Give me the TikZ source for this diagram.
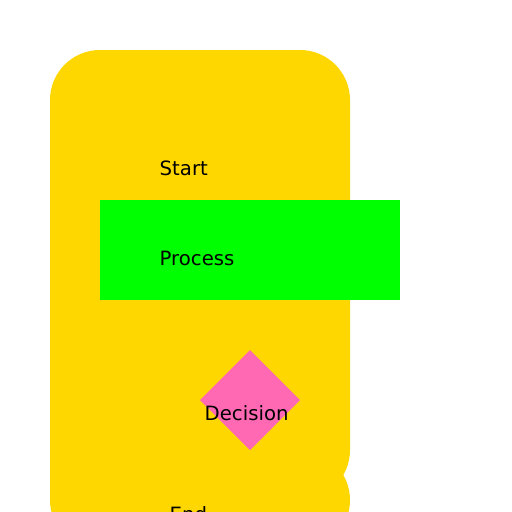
\documentclass[tikz,border=0pt]{standalone}
\usepackage{fontspec}
\setmainfont{DejaVu Sans}
\usetikzlibrary{shapes.geometric}
\definecolor{goldy}{HTML}{FFD700}
\definecolor{greeny}{HTML}{00FF00}
\definecolor{pinky}{HTML}{FF69B4}
\tikzset{
  lbl/.style={anchor=base west, inner sep=0pt, font=\fontsize{19.7pt}{23pt}\selectfont, text=black},
  yshape/.style={fill=goldy, draw=none},
}
\begin{document}
\begin{tikzpicture}[x=1pt,y=-1pt]
\useasboundingbox (0,0) rectangle (512,512);
\clip (0,0) rectangle (512,512);
% Start container
\fill[yshape, rounded corners=50pt] (50,50) rectangle (350,500);
\fill[yshape] (50,450) rectangle (100,500);
% End shape
\fill[yshape, rounded corners=50pt] (50,450) rectangle (350,550);
% Process
\fill[greeny] (100,200) rectangle (400,300);
% Decision
\fill[pinky] (250,350) -- (300,400) -- (250,450) -- (200,400) -- cycle;
% labels
\node[lbl] (tstart) at (159.5,175) {Start};
\node[lbl] (tproc) at (159.5,265) {Process};
\node[lbl] (tdec) at (204.5,420) {Decision};
\node[lbl] (tend) at (169.5,521) {End};
\end{tikzpicture}
\end{document}
